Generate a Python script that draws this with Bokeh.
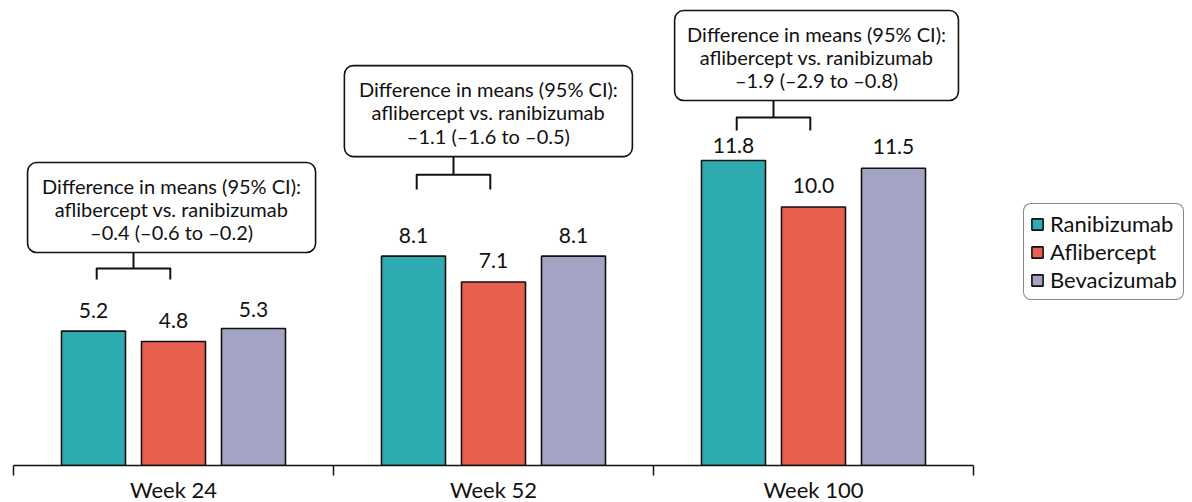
from bokeh.plotting import figure
from bokeh.models import Range1d, FixedTicker, Legend, LegendItem, ColumnDataSource
from bokeh.core.properties import value
from bokeh.embed import file_html
from bokeh.resources import INLINE
from bokeh.models.glyphs import Quad

# ---- data ----
weeks = ["Week 24", "Week 52", "Week 100"]
series = ["Ranibizumab", "Aflibercept", "Bevacizumab"]
ranibizumab = [5.2, 8.1, 11.8]
aflibercept = [4.8, 7.1, 10.0]
bevacizumab = [5.3, 8.1, 11.5]
diff_lines = [
    ["Difference in means (95% CI):", "aflibercept vs. ranibizumab", "\u20130.4 (\u20130.6 to \u20130.2)"],
    ["Difference in means (95% CI):", "aflibercept vs. ranibizumab", "\u20131.1 (\u20131.6 to \u20130.5)"],
    ["Difference in means (95% CI):", "aflibercept vs. ranibizumab", "\u20131.9 (\u20132.9 to \u20130.8)"],
]

# ---- layout / style ----
colors = ["#2EABB1", "#E95F4F", "#A3A3C3"]
FONT = "Lato"
INK = "#111111"
offsets = [-0.25, 0.0, 0.25]
bar_w = 0.2
FW, FH = 1176, 457
# value-label pixel offsets above bar tops (per series, per week)
lab_offsets = [[-21, -21, -15], [-21, -21, -22], [-19, -21, -22]]
# annotation box positions (data units)
box_left = [0.044, 1.034, 2.066]
box_right = [0.944, 1.934, 2.953]
box_bottom = [8.24, 11.95, 14.12]
box_top = [11.72, 15.47, 17.60]
br_h = [7.62, 11.25, 13.46]
br_bottom = [7.20, 10.68, 12.96]

p = figure(frame_width=FW, frame_height=FH, output_backend="svg", toolbar_location=None,
           x_range=Range1d(0, FW / 320), y_range=Range1d(0, 17.68),
           min_border_left=13, min_border_right=0, min_border_top=8, min_border_bottom=0)
p.outline_line_color = None
p.grid.visible = False
p.yaxis.visible = False

centers = [i + 0.5 for i in range(len(weeks))]
vals = [ranibizumab, aflibercept, bevacizumab]
renderers = []
for s, (v, off, c) in enumerate(zip(vals, offsets, colors)):
    xs = [cx + off for cx in centers]
    src = ColumnDataSource(dict(x=xs, top=v, lab=[f"{t:.1f}" for t in v], yo=lab_offsets[s]))
    r = p.vbar(x="x", top="top", width=bar_w, bottom=0, source=src,
               fill_color=c, line_color=INK, line_width=1.6)
    renderers.append(r)
    p.text(x="x", y="top", text="lab", source=src, y_offset="yo",
           text_align="center", text_baseline="middle",
           text_font=value(FONT), text_font_size="21px", text_color=INK)

# annotation boxes
boxsrc = ColumnDataSource(dict(left=box_left, right=box_right, bottom=box_bottom, top=box_top))
kw = {}
if "border_radius" in Quad.properties():
    kw["border_radius"] = 9
p.quad(left="left", right="right", bottom="bottom", top="top", source=boxsrc,
       fill_color="white", line_color=INK, line_width=1.6, **kw)

tx, ty, tt, toff = [], [], [], []
line_offs = [-22.0, 1.3, 24.6]
for i in range(len(weeks)):
    mid_x = (box_left[i] + box_right[i]) / 2
    mid_y = (box_bottom[i] + box_top[i]) / 2
    for j, line in enumerate(diff_lines[i]):
        tx.append(mid_x); ty.append(mid_y); tt.append(line); toff.append(line_offs[j])
p.text(x=tx, y=ty, text=tt, y_offset=toff, text_align="center", text_baseline="middle",
       text_font=value(FONT), text_font_size="20px", text_color=INK)

# brackets
bx, by = [], []
for i in range(len(weeks)):
    x1 = centers[i] + offsets[0] + 0.01
    x2 = centers[i] + offsets[1] - 0.01
    xc = (x1 + x2) / 2
    bx.append([x1, x1, x2, x2]); by.append([br_bottom[i], br_h[i], br_h[i], br_bottom[i]])
    bx.append([xc, xc]); by.append([br_h[i], box_bottom[i]])
p.multi_line(xs=bx, ys=by, line_color=INK, line_width=2, line_join="round")

# x axis: ticks at boundaries (minor), labels at centers (major)
ax = p.xaxis[0]
ax.bounds = (0, 3)
ax.ticker = FixedTicker(ticks=centers, minor_ticks=[0, 1, 2, 3])
ax.major_label_overrides = {c: w for c, w in zip(centers, weeks)}
ax.major_tick_out = 0
ax.major_tick_in = 0
ax.minor_tick_out = 10
ax.minor_tick_in = 0
ax.minor_tick_line_color = INK
ax.minor_tick_line_width = 1.5
ax.axis_line_color = INK
ax.axis_line_width = 1.5
ax.major_label_standoff = 0
ax.major_label_text_font = FONT
ax.major_label_text_font_size = "22px"
ax.major_label_text_color = INK

legend = Legend(items=[LegendItem(label=s, renderers=[r]) for s, r in zip(series, renderers)],
                location=(1010, 165))
legend.label_text_font = FONT
legend.label_text_font_size = "22px"
legend.label_text_color = INK
legend.glyph_width = 14
legend.glyph_height = 14
legend.label_standoff = 6
legend.spacing = 1
legend.padding = 6
legend.margin = 0
legend.border_line_color = INK
legend.border_line_width = 1.6
legend.background_fill_color = "white"
if "border_radius" in Legend.properties():
    legend.border_radius = 8
p.add_layout(legend)

open("out.html", "w").write(file_html(p, INLINE))
